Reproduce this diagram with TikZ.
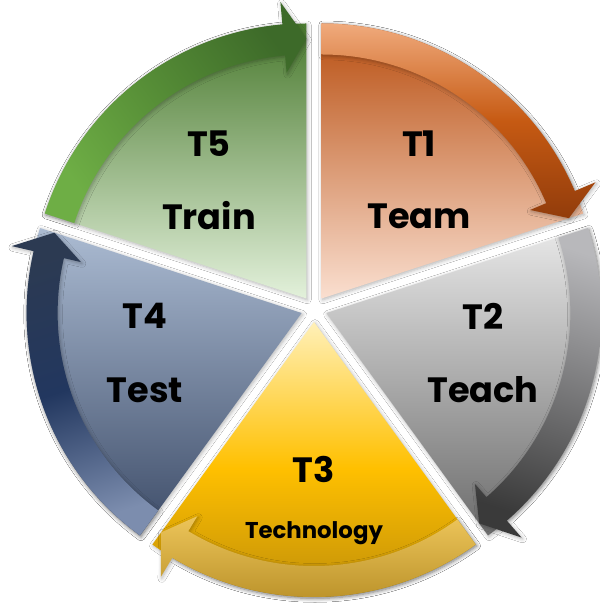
\documentclass[tikz,border=0pt]{standalone}
\usepackage{fontspec}
\setmainfont{Poppins}
\usetikzlibrary{shadows.blur}

\definecolor{tonetop}{HTML}{B84E10}
\definecolor{tonebot}{HTML}{FADFD0}
\definecolor{tonea}{HTML}{F0AA7C}
\definecolor{tonem}{HTML}{C65A13}
\definecolor{toneb}{HTML}{923C0B}
\definecolor{ttwotop}{HTML}{E8E8E8}
\definecolor{ttwobot}{HTML}{6C6C6C}
\definecolor{ttwoa}{HTML}{B8B8BB}
\definecolor{ttwob}{HTML}{3A3A3A}
\definecolor{tthrtop}{HTML}{FFF0B8}
\definecolor{tthrmid}{HTML}{FFC000}
\definecolor{tthrbot}{HTML}{B8880A}
\definecolor{tthra}{HTML}{EDC55A}
\definecolor{tthrb}{HTML}{B38A22}
\definecolor{tfourtop}{HTML}{ABBBD2}
\definecolor{tfourbot}{HTML}{3D4C68}
\definecolor{tfoura}{HTML}{7C8DAE}
\definecolor{tfourm}{HTML}{22375F}
\definecolor{tfourb}{HTML}{2C3A52}
\definecolor{tfivetop}{HTML}{4A7A2F}
\definecolor{tfivebot}{HTML}{E3F1DB}
\definecolor{tfivea}{HTML}{6EAE45}
\definecolor{tfivem}{HTML}{558C36}
\definecolor{tfiveb}{HTML}{3D6A29}

\begin{document}
\begin{tikzpicture}
\tikzset{ lbl/.style={font=\bfseries\fontsize{20}{24}\selectfont, text=black, inner sep=0pt},
          small lbl/.style={font=\bfseries\fontsize{13}{16}\selectfont, text=black, inner sep=0pt},
          soft/.style={blur shadow={shadow xshift=0.6pt, shadow yshift=-0.8pt, shadow blur steps=6, shadow opacity=30}},
        }

\fill [white] (-6.28,-5.96) rectangle (5.72,6.18);
\useasboundingbox (-6.28,-5.96) rectangle (5.72,6.18);

%\draw [lightgray, dashed](-6,-6) grid (6,6);

% T1 - Team
\begin{scope}[shift={(54:0.26)}]
\shade [soft, top color=tonetop, bottom color=tonebot] (0,0) -- (90:5.5) arc[start angle=90, end angle=18, radius=5.5] -- cycle;
\shade [soft, top color=tonea, bottom color=toneb, middle color=tonem]
  (90:5.5) arc[start angle=90, end angle=23, radius=5.5] -- (23:5.95) -- (18:5.2)
  -- (23:4.53) -- (23:4.88) arc[start angle=23, end angle=90, radius=4.88] -- cycle;
\end{scope}

% T2 - Teach
\begin{scope}[shift={(-18:0.26)}]
\shade [soft, top color=ttwotop, bottom color=ttwobot] (0,0) -- (18:5.5) arc[start angle=18, end angle=-54, radius=5.5] -- cycle;
\shade [soft, top color=ttwoa, bottom color=ttwob, shading angle=-18]
  (18:5.5) arc[start angle=18, end angle=-49, radius=5.5] -- (-49:5.95) -- (-54:5.2)
  -- (-49:4.53) -- (-49:4.88) arc[start angle=-49, end angle=18, radius=4.88] -- cycle;
\end{scope}

% T3 - Technology
\begin{scope}[shift={(-90:0.26)}]
\shade [soft, top color=tthrtop, bottom color=tthrbot, middle color=tthrmid] (0,0) -- (-54:5.5) arc[start angle=-54, end angle=-126, radius=5.5] -- cycle;
\shade [soft, top color=tthra, bottom color=tthrb]
  (-54:5.5) arc[start angle=-54, end angle=-121, radius=5.5] -- (-121:5.95) -- (-126:5.2)
  -- (-121:4.53) -- (-121:4.88) arc[start angle=-121, end angle=-54, radius=4.88] -- cycle;
\end{scope}

% T4 - Test
\begin{scope}[shift={(198:0.26)}]
\shade [soft, top color=tfourtop, bottom color=tfourbot] (0,0) -- (234:5.5) arc[start angle=234, end angle=162, radius=5.5] -- cycle;
\shade [soft, top color=tfoura, bottom color=tfourb, middle color=tfourm, shading angle=198]
  (234:5.5) arc[start angle=234, end angle=167, radius=5.5] -- (167:5.95) -- (162:5.2)
  -- (167:4.53) -- (167:4.88) arc[start angle=167, end angle=234, radius=4.88] -- cycle;
\end{scope}

% T5 - Train
\begin{scope}[shift={(126:0.26)}]
\shade [soft, top color=tfivetop, bottom color=tfivebot] (0,0) -- (162:5.5) arc[start angle=162, end angle=90, radius=5.5] -- cycle;
\shade [soft, top color=tfivea, bottom color=tfiveb, middle color=tfivem, shading angle=126]
  (162:5.5) arc[start angle=162, end angle=95, radius=5.5] -- (95:5.95) -- (90:5.2)
  -- (95:4.53) -- (95:4.88) arc[start angle=95, end angle=162, radius=4.88] -- cycle;
\end{scope}

\node [lbl] (t1) at (2.1,3.3) {T1};
\node [lbl] (team) at (2.1,1.86) {Team};
\node [lbl] (t2) at (3.38,-0.14) {T2};
\node [lbl] (teach) at (3.38,-1.62) {Teach};
\node [lbl] (t3) at (0,-3.2) {T3};
\node [small lbl] (tech) at (0,-4.48) {Technology};
\node [lbl] (t4) at (-3.38,-0.14) {T4};
\node [lbl] (test) at (-3.38,-1.62) {Test};
\node [lbl] (t5) at (-2.1,3.3) {T5};
\node [lbl] (train) at (-2.1,1.86) {Train};

\end{tikzpicture}
\end{document}
